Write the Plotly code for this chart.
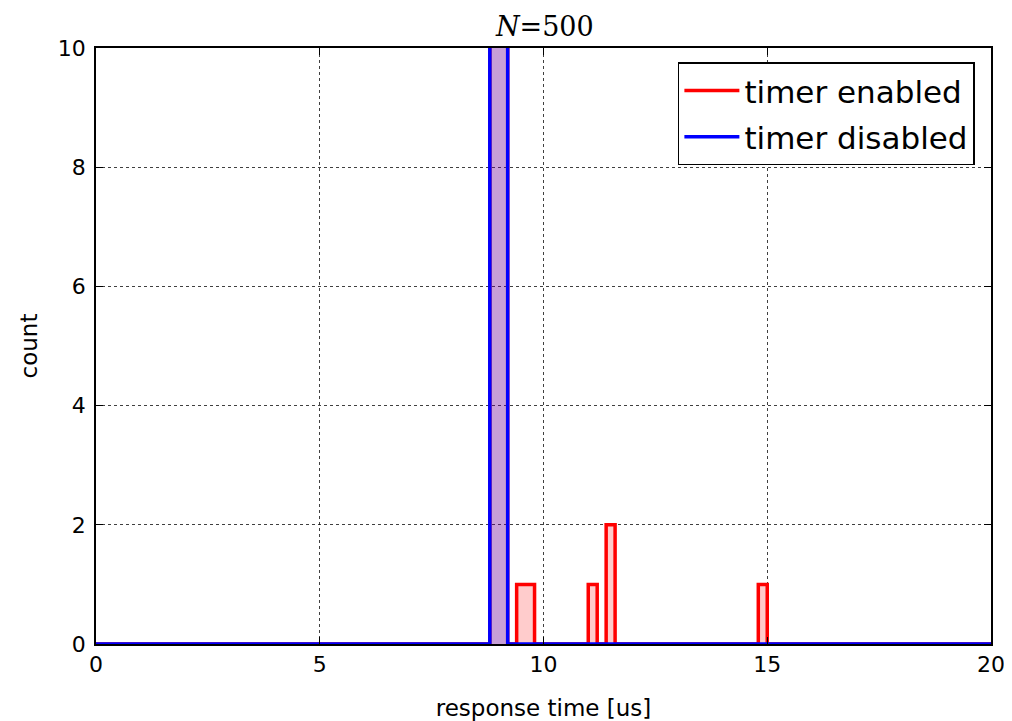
import numpy as np
import plotly.graph_objects as go

# ---- data ----
bin_width = 0.2
x_min, x_max = 0, 20

enabled_bin_starts = [8.8, 9.0, 9.4, 9.6, 11.0, 11.4, 14.8]
enabled_counts = [250, 244, 1, 1, 1, 2, 1]

disabled_bin_starts = [8.8, 9.0]
disabled_counts = [262, 238]

series_names = ["timer enabled", "timer disabled"]
title_text = "<i>N</i>=500"
x_ticks = [0, 5, 10, 15, 20]
y_ticks = [0, 2, 4, 6, 8, 10]

edges = np.round(np.arange(x_min, x_max + bin_width / 2, bin_width), 6)


def full_hist(starts, counts):
    h = np.zeros(len(edges) - 1)
    for s, c in zip(starts, counts):
        idx = int(round((s - x_min) / bin_width))
        h[idx] = c
    return h


def step_xy(h):
    xs = [edges[0]] + list(edges) + [edges[-1]]
    ys = [0] + list(h) + [h[-1]] + [0]
    return xs, ys


fig = go.Figure()

for starts, counts, line_c, fill_c in [
    (enabled_bin_starts, enabled_counts, "#ff0000", "rgba(255,0,0,0.2)"),
    (disabled_bin_starts, disabled_counts, "#0000ff", "rgba(0,0,255,0.22)"),
]:
    xs, ys = step_xy(full_hist(starts, counts))
    fig.add_trace(go.Scatter(
        x=xs, y=ys, mode="lines", line=dict(color=line_c, width=3.5, shape="hv"),
        fill="tozeroy", fillcolor=fill_c, showlegend=False, hoverinfo="skip",
    ))

for name, c in zip(series_names, ["#ff0000", "#0000ff"]):
    fig.add_trace(go.Scatter(
        x=[None], y=[None], mode="lines", line=dict(color=c, width=3.5),
        name=name, legendgroup=name, showlegend=True,
    ))

axis_common = dict(
    showline=True, linecolor="black", linewidth=1.5, mirror="ticks",
    ticks="inside", ticklen=7, tickwidth=1, tickcolor="black",
    showgrid=True, gridcolor="rgba(0,0,0,0.75)", griddash="dot", gridwidth=1,
    zeroline=False, automargin=False, ticklabeloverflow="allow",
    tickfont=dict(family="DejaVu Sans", size=22, color="black"),
)

label_font = dict(family="DejaVu Sans", size=23, color="black")

fig.update_xaxes(range=[x_min, x_max], tickvals=x_ticks, **axis_common,
                 title=dict(text="response time [us]", font=label_font, standoff=26))
fig.update_yaxes(range=[0, 10], tickvals=y_ticks, ticklabelstandoff=4, **axis_common,
                 title=dict(text="count", font=label_font, standoff=14))

fig.update_layout(
    width=996, height=713,
    margin=dict(l=88, r=13, t=40, b=77),
    paper_bgcolor="white", plot_bgcolor="white",
    title=dict(text=title_text, x=0.539, xanchor="center", y=1 - 19 / 713, yanchor="middle",
               font=dict(family="DejaVu Serif", size=27, color="black")),
    legend=dict(
        x=0.982, y=0.976, xanchor="right", yanchor="top",
        bgcolor="white", bordercolor="black", borderwidth=1.5,
        font=dict(family="DejaVu Sans", size=31, color="black"),
        tracegroupgap=3, itemwidth=55,
    ),
    showlegend=True,
)

fig.write_html("out.html")
